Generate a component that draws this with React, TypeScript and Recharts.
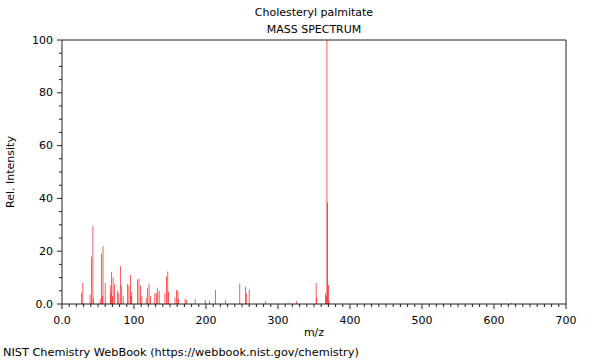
import { BarChart, Bar, XAxis, YAxis, ReferenceLine } from 'recharts';

// m/z positions and relative intensities
const mzValues = [
  27, 29, 39, 41, 43, 44, 53, 55, 56, 57, 60, 67, 68, 69, 70, 71, 73, 77, 79, 81,
  83, 85, 91, 93, 95, 96, 97, 105, 107, 109, 111, 117, 119, 121, 123, 129, 131, 133, 135, 143,
  145, 147, 148, 157, 159, 161, 162, 171, 173, 185, 199, 205, 213, 227, 247, 255, 256, 260, 283, 314,
  326, 353, 354, 366, 367, 368, 369, 370, 371, 624,
];
const intensities = [
  4.3, 8, 3.5, 18, 29.5, 2, 2, 19, 3, 22, 8, 7, 4, 12, 3, 10, 7.5, 5, 4, 14.4,
  7, 3, 7.5, 7, 11, 3, 4.5, 9.3, 9.7, 7, 3, 2.4, 6, 7.8, 3, 4, 4.3, 6, 5, 4,
  10.4, 12.3, 4.5, 2.5, 5.3, 5, 2, 2, 1.5, 1.8, 1.5, 1.2, 5.3, 1.5, 7.8, 6.5, 4, 5.5, 1, 0.5,
  1, 8, 2.5, 4, 3, 100, 38.4, 7.2, 1, 0.5,
];

const xTicks = [
  0, 10, 20, 30, 40, 50, 60, 70, 80, 90, 100, 110, 120, 130, 140, 150, 160, 170, 180, 190,
  200, 210, 220, 230, 240, 250, 260, 270, 280, 290, 300, 310, 320, 330, 340, 350, 360, 370, 380, 390,
  400, 410, 420, 430, 440, 450, 460, 470, 480, 490, 500, 510, 520, 530, 540, 550, 560, 570, 580, 590,
  600, 610, 620, 630, 640, 650, 660, 670, 680, 690, 700,
];
const yTicks = [0, 5, 10, 15, 20, 25, 30, 35, 40, 45, 50, 55, 60, 65, 70, 75, 80, 85, 90, 95, 100];

const data = mzValues.map((mz, i) => ({ mz, intensity: intensities[i] }));

const FONT = '"DejaVu Sans", sans-serif';
const AXIS = '#222';

const XTick = ({ x, y, payload }: any) => {
  const v = payload.value;
  const major = v % 100 === 0;
  return (
    <g>
      <line x1={x} x2={x} y1={y} y2={y + (major ? 5 : 3)} stroke={AXIS} />
      {major && (
        <text x={x} y={y + 16} textAnchor="middle" dominantBaseline="central"
          fontSize={11} fontFamily={FONT} fill="#000">
          {v === 0 ? '0.0' : v}
        </text>
      )}
    </g>
  );
};

const YTick = ({ x, y, payload }: any) => {
  const v = payload.value;
  const major = v % 20 === 0;
  return (
    <g>
      <line x1={x - (major ? 5 : 3)} x2={x} y1={y} y2={y} stroke={AXIS} />
      {major && (
        <text x={x - 9} y={y} textAnchor="end" dominantBaseline="central"
          fontSize={11} fontFamily={FONT} fill="#000">
          {v === 0 ? '0.0' : v}
        </text>
      )}
    </g>
  );
};

const txt = (extra: React.CSSProperties): React.CSSProperties => ({
  position: 'absolute',
  fontFamily: FONT,
  fontSize: 11,
  color: '#000',
  whiteSpace: 'nowrap',
  lineHeight: '12px',
  ...extra,
});

export default function App() {
  return (
    <div style={{ position: 'absolute', left: 0, top: 0, width: 600, height: 360, background: '#fff' }}>
      <BarChart
        width={600}
        height={360}
        data={data}
        margin={{ top: 40, right: 34, bottom: 26, left: 0 }}
        barCategoryGap={0}
      >
        <XAxis
          dataKey="mz"
          type="number"
          domain={[0, 700]}
          ticks={xTicks}
          interval={0}
          allowDataOverflow
          height={30}
          tickSize={0}
          tickMargin={0}
          tickLine={false}
          axisLine={{ stroke: AXIS }}
          tick={<XTick />}
        />
        <YAxis
          type="number"
          domain={[0, 100]}
          ticks={yTicks}
          interval={0}
          width={62}
          tickSize={0}
          tickMargin={0}
          tickLine={false}
          axisLine={{ stroke: AXIS }}
          tick={<YTick />}
        />
        {/* frame: top and right edges */}
        <ReferenceLine y={100} stroke={AXIS} strokeWidth={1} />
        <ReferenceLine x={700} stroke={AXIS} strokeWidth={1} />
        <Bar dataKey="intensity" fill="#ff0000" barSize={1} isAnimationActive={false} />
      </BarChart>
      <div style={txt({ left: 314, top: 7, transform: 'translateX(-50%)' })}>Cholesteryl palmitate</div>
      <div style={txt({ left: 314, top: 24, transform: 'translateX(-50%)' })}>MASS SPECTRUM</div>
      <div style={txt({ left: 314, top: 327, transform: 'translateX(-50%)' })}>m/z</div>
      <div style={txt({ left: 11, top: 172, transform: 'translate(-50%, -50%) rotate(-90deg)' })}>Rel. Intensity</div>
      <div style={txt({ left: 3, top: 347, fontSize: 11.3 })}>NIST Chemistry WebBook (https://webbook.nist.gov/chemistry)</div>
    </div>
  );
}
